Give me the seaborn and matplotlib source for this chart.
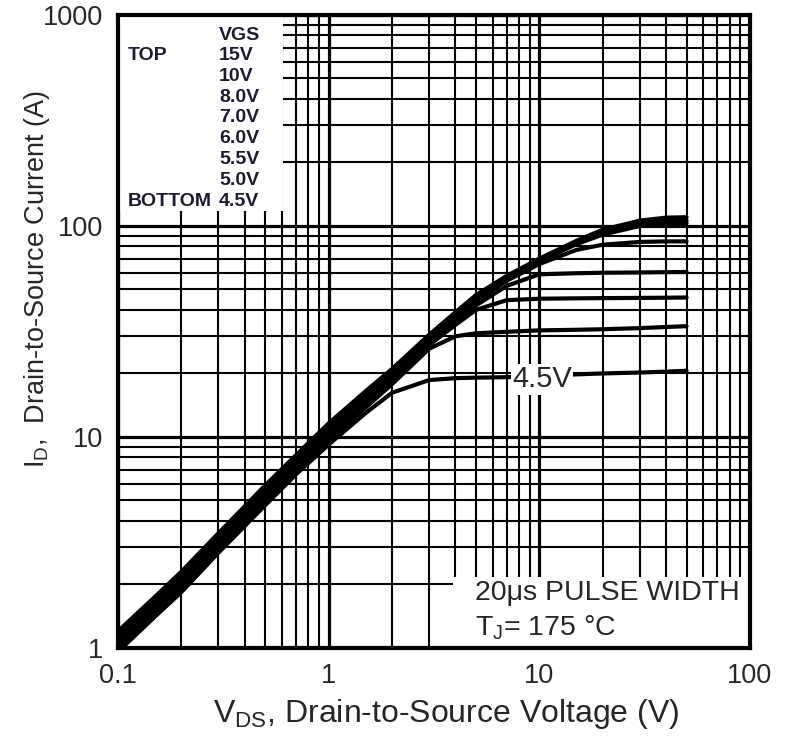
import matplotlib as mpl
mpl.use('Agg')
import matplotlib.pyplot as plt
import pandas as pd
import seaborn as sns
from matplotlib.patches import Rectangle

# drain-source voltage (V), shared by every curve
vds = [0.1, 0.15, 0.2, 0.3, 0.5, 0.7, 1, 1.5, 2, 3, 4, 5, 7, 10, 15, 20, 30, 40, 50]

# drain current (A) per gate voltage
id_15v = [1.2, 1.75, 2.3, 3.5, 5.9, 8.2, 11.6, 16.5, 21.0, 30.5, 39, 47, 58, 70, 85, 96, 106, 109.5, 110]
id_10v = [1.16, 1.7, 2.22, 3.4, 5.75, 8.0, 11.2, 16.0, 20.5, 30, 38, 46, 57, 69, 84, 94, 103, 105.5, 106]
id_8v = [1.12, 1.64, 2.15, 3.3, 5.55, 7.75, 10.8, 15.5, 20.0, 29.3, 37, 45, 56, 68, 82, 91, 100, 102.5, 103]
id_7v = [1.09, 1.59, 2.08, 3.2, 5.4, 7.55, 10.5, 15.1, 19.5, 28.6, 36, 44, 55, 66, 77, 81.5, 84, 84.5, 84.5]
id_6v = [1.05, 1.54, 2.02, 3.1, 5.2, 7.3, 10.2, 14.7, 19.0, 28, 35, 42, 52, 59, 59.7, 60, 60.2, 60.4, 60.5]
id_55v = [1.02, 1.5, 1.96, 3.0, 5.05, 7.1, 9.9, 14.3, 18.5, 27.3, 34, 40, 44.5, 45.2, 45.4, 45.5, 45.6, 45.7, 45.8]
id_5v = [0.99, 1.46, 1.9, 2.92, 4.9, 6.9, 9.6, 13.8, 17.8, 26.2, 30, 31, 31.5, 32, 32.2, 32.4, 32.8, 33.2, 33.5]
id_45v = [0.96, 1.41, 1.84, 2.83, 4.75, 6.65, 9.2, 13.0, 16.2, 18.6, 19.0, 19.1, 19.2, 19.4, 19.8, 20.0, 20.2, 20.4, 20.6]

vgs_labels = ['15V', '10V', '8.0V', '7.0V', '6.0V', '5.5V', '5.0V', '4.5V']
curves = [id_15v, id_10v, id_8v, id_7v, id_6v, id_55v, id_5v, id_45v]

rows = []
for lab, cur in zip(vgs_labels, curves):
	for v, i in zip(vds, cur):
		rows.append({'vds': v, 'id': i, 'vgs': lab})
df = pd.DataFrame(rows)

sns.set_style('white')
plt.rcParams['font.family'] = ['Liberation Sans', 'DejaVu Sans']
plt.rcParams['mathtext.fontset'] = 'custom'
plt.rcParams['mathtext.rm'] = 'Liberation Sans'

fig = plt.figure(figsize=(7.85, 7.36), dpi=100)
ax = fig.add_axes([0.1503, 0.1196, 0.8051, 0.8601])
ax.set(xscale='log', yscale='log')

sns.lineplot(data=df, x='vds', y='id', hue='vgs', palette=['black'] * 8,
	legend=False, linewidth=3.0, ax=ax, zorder=3)

ax.set_xlim(0.1, 100)
ax.set_ylim(1, 1000)
ax.set_axisbelow(True)
ax.grid(which='major', color='black', linewidth=2.3)
ax.grid(which='minor', color='black', linewidth=1.5)
for sp in ax.spines.values():
	sp.set_linewidth(3)
	sp.set_color('black')
ax.tick_params(which='both', length=0, labelsize=19.5, pad=11)
ax.set_xticks([0.1, 1, 10, 100], ['0.1', '1', '10', '100'])
ax.set_yticks([1, 10, 100, 1000], ['1', '10', '100', '1000'])

ax.set_xlabel(r'$\mathregular{V_{DS}}$, Drain-to-Source Voltage (V)', fontsize=23)
ax.set_ylabel(r'$\mathregular{I_D}$,  Drain-to-Source Current (A)', fontsize=19.5)
ax.xaxis.set_label_coords(0.52, -0.078)
ax.yaxis.set_label_coords(-0.105, 0.583)

# white boxes hiding the grid behind the annotations
ax.add_patch(Rectangle((0, 0.69), 0.261, 0.31, transform=ax.transAxes,
	facecolor='white', edgecolor='none', zorder=1))
ax.add_patch(Rectangle((0.53, 0), 0.47, 0.112, transform=ax.transAxes,
	facecolor='white', edgecolor='none', zorder=1))

# VGS legend
txt = dict(transform=ax.transAxes, fontsize=14, fontweight='bold', va='center',
	color='#1c1c30', zorder=4)
ax.text(0.16, 0.968, 'VGS', **txt)
for k, lab in enumerate(vgs_labels):
	ax.text(0.16, 0.936 - k * 0.0329, lab, **txt)
ax.text(0.016, 0.936, 'TOP', **txt)
ax.text(0.016, 0.706, 'BOTTOM', **txt)

ax.text(10.3, 18.8, '4.5V', fontsize=21, ha='center', va='center', zorder=5,
	bbox=dict(facecolor='white', edgecolor='none', pad=1))

ax.text(0.565, 0.087, '20μs PULSE WIDTH', transform=ax.transAxes, fontsize=20.5,
	va='center', zorder=4)
ax.text(0.565, 0.032, r'$\mathregular{T_J}$= 175 °C', transform=ax.transAxes,
	fontsize=20.5, va='center', zorder=4)

plt.savefig('out.png', dpi=100)
